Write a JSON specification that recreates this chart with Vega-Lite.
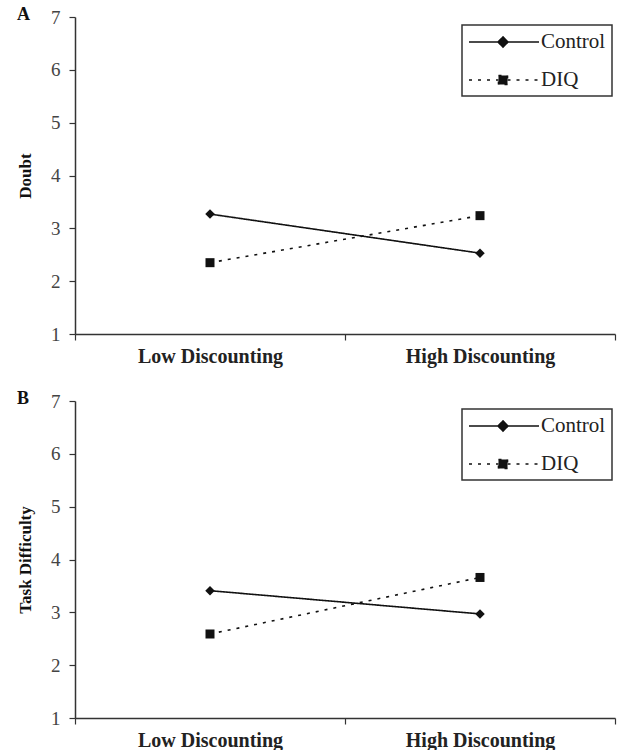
{
  "$schema": "https://vega.github.io/schema/vega-lite/v6.json",
  "padding": {"top": 6, "left": 16, "right": 5, "bottom": 0},
  "spacing": 24,
  "datasets": {
    "doubt": [
      {"condition": "Control", "discounting": "Low Discounting", "value": 3.27},
      {"condition": "Control", "discounting": "High Discounting", "value": 2.53},
      {"condition": "DIQ", "discounting": "Low Discounting", "value": 2.35},
      {"condition": "DIQ", "discounting": "High Discounting", "value": 3.24}
    ],
    "difficulty": [
      {"condition": "Control", "discounting": "Low Discounting", "value": 3.41},
      {"condition": "Control", "discounting": "High Discounting", "value": 2.97},
      {"condition": "DIQ", "discounting": "Low Discounting", "value": 2.59},
      {"condition": "DIQ", "discounting": "High Discounting", "value": 3.66}
    ]
  },
  "config": {
    "view": {"stroke": null},
    "axis": {
      "domainColor": "#333",
      "tickColor": "#333",
      "domainWidth": 1.5,
      "tickWidth": 1.2,
      "tickSize": 6,
      "grid": false
    },
    "title": {"font": "Liberation Serif", "fontWeight": "bold", "fontSize": 18, "color": "#111"}
  },
  "vconcat": [
    {
      "width": 540,
      "height": 317,
      "data": {"name": "doubt"},
      "title": {"text": "A", "anchor": "start", "frame": "group", "dx": -58, "baseline": "alphabetic", "offset": -30},
      "encoding": {
        "x": {
          "field": "discounting", "type": "nominal", "sort": ["Low Discounting", "High Discounting"],
          "scale": {"type": "band", "paddingInner": 0, "paddingOuter": 0},
          "axis": {"title": null, "labelAngle": 0, "tickBand": "extent", "labelFont": "Liberation Serif", "labelFontWeight": "bold", "labelFontSize": 20, "labelColor": "#222", "labelPadding": 6}
        },
        "y": {
          "field": "value", "type": "quantitative",
          "scale": {"domain": [1, 7], "nice": false, "zero": false},
          "axis": {"title": "Doubt", "values": [1, 2, 3, 4, 5, 6, 7], "labelFont": "Liberation Serif", "labelFontSize": 19, "labelColor": "#444", "labelPadding": 9, "titleFont": "Liberation Serif", "titleFontWeight": "bold", "titleFontSize": 17, "titleColor": "#111", "titlePadding": 16}
        }
      },
      "layer": [
        {
          "mark": {"type": "line", "color": "#111", "strokeWidth": 1.6},
          "encoding": {
            "detail": {"field": "condition"},
            "strokeDash": {
              "field": "condition", "type": "nominal",
              "scale": {"domain": ["Control", "DIQ"], "range": [[1, 0], [3, 6]]},
              "legend": {
                "title": null, "orient": "none", "legendX": 387, "legendY": 8,
                "strokeColor": "#333", "padding": 6,
                "labelFont": "Liberation Serif", "labelFontSize": 21, "labelColor": "#222", "labelOffset": 51,
                "symbolSize": 400, "symbolStrokeWidth": 1.6, "symbolStrokeColor": "#111", "symbolFillColor": "#111",
                "rowPadding": 17,
                "encode": {
                  "legend": {"update": {"strokeWidth": {"value": 1.5}}},
                  "symbols": {"update": {
                    "shape": {"signal": "datum.value === 'Control' ? 'M-1,0H1.9M1.9,0L2.4,-0.5L2.9,0L2.4,0.5ZM2.9,0H6' : 'M-1,0H1.95M1.95,-0.45H2.85V0.45H1.95ZM2.85,0H6'"},
                    "fill": {"value": "#111"},
                    "stroke": {"value": "#111"}
                  }}
                }
              }
            }
          }
        },
        {
          "mark": {"type": "point", "filled": true, "color": "#111", "opacity": 1},
          "encoding": {
            "shape": {"field": "condition", "type": "nominal", "scale": {"domain": ["Control", "DIQ"], "range": ["diamond", "square"]}, "legend": null},
            "size": {"field": "condition", "type": "nominal", "scale": {"domain": ["Control", "DIQ"], "range": [90, 81]}, "legend": null}
          }
        }
      ]
    },
    {
      "width": 540,
      "height": 317,
      "data": {"name": "difficulty"},
      "title": {"text": "B", "anchor": "start", "frame": "group", "dx": -58, "baseline": "alphabetic", "offset": -30},
      "encoding": {
        "x": {
          "field": "discounting", "type": "nominal", "sort": ["Low Discounting", "High Discounting"],
          "scale": {"type": "band", "paddingInner": 0, "paddingOuter": 0},
          "axis": {"title": null, "labelAngle": 0, "tickBand": "extent", "labelFont": "Liberation Serif", "labelFontWeight": "bold", "labelFontSize": 20, "labelColor": "#222", "labelPadding": 6}
        },
        "y": {
          "field": "value", "type": "quantitative",
          "scale": {"domain": [1, 7], "nice": false, "zero": false},
          "axis": {"title": "Task Difficulty", "values": [1, 2, 3, 4, 5, 6, 7], "labelFont": "Liberation Serif", "labelFontSize": 19, "labelColor": "#444", "labelPadding": 9, "titleFont": "Liberation Serif", "titleFontWeight": "bold", "titleFontSize": 17, "titleColor": "#111", "titlePadding": 16}
        }
      },
      "layer": [
        {
          "mark": {"type": "line", "color": "#111", "strokeWidth": 1.6},
          "encoding": {
            "detail": {"field": "condition"},
            "strokeDash": {
              "field": "condition", "type": "nominal",
              "scale": {"domain": ["Control", "DIQ"], "range": [[1, 0], [3, 6]]},
              "legend": {
                "title": null, "orient": "none", "legendX": 387, "legendY": 8,
                "strokeColor": "#333", "padding": 6,
                "labelFont": "Liberation Serif", "labelFontSize": 21, "labelColor": "#222", "labelOffset": 51,
                "symbolSize": 400, "symbolStrokeWidth": 1.6, "symbolStrokeColor": "#111", "symbolFillColor": "#111",
                "rowPadding": 17,
                "encode": {
                  "legend": {"update": {"strokeWidth": {"value": 1.5}}},
                  "symbols": {"update": {
                    "shape": {"signal": "datum.value === 'Control' ? 'M-1,0H1.9M1.9,0L2.4,-0.5L2.9,0L2.4,0.5ZM2.9,0H6' : 'M-1,0H1.95M1.95,-0.45H2.85V0.45H1.95ZM2.85,0H6'"},
                    "fill": {"value": "#111"},
                    "stroke": {"value": "#111"}
                  }}
                }
              }
            }
          }
        },
        {
          "mark": {"type": "point", "filled": true, "color": "#111", "opacity": 1},
          "encoding": {
            "shape": {"field": "condition", "type": "nominal", "scale": {"domain": ["Control", "DIQ"], "range": ["diamond", "square"]}, "legend": null},
            "size": {"field": "condition", "type": "nominal", "scale": {"domain": ["Control", "DIQ"], "range": [90, 81]}, "legend": null}
          }
        }
      ]
    }
  ],
  "resolve": {"legend": {"strokeDash": "independent"}}
}
